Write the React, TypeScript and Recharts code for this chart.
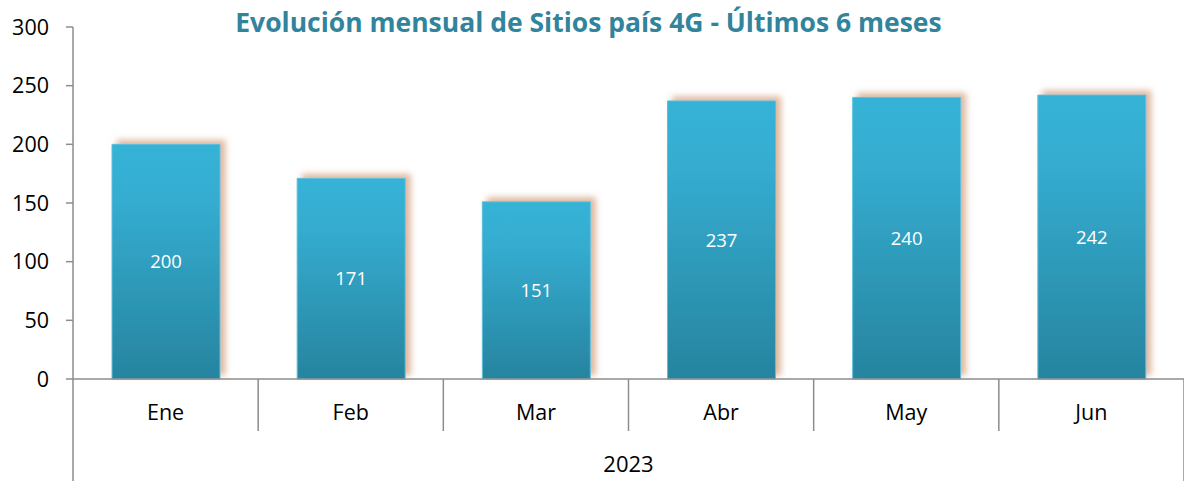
import React from 'react';
import { BarChart, Bar, XAxis, YAxis, LabelList } from 'recharts';

document.body.style.margin = '0';

const months = ['Ene', 'Feb', 'Mar', 'Abr', 'May', 'Jun'];
const sites = [200, 171, 151, 237, 240, 242];
const years = ['2023', '2023', '2023', '2023', '2023', '2023'];
const yTicks = [0, 50, 100, 150, 200, 250, 300];

const data = months.map((m, i) => ({ month: m, sites: sites[i], year: years[i] }));

const W = 1184;
const H = 481;
const Y_AXIS_W = 73;
const BAND = (W - Y_AXIS_W) / months.length;
const FONT = '"Open Sans", sans-serif';
const AXIS_GREY = '#8c8c8c';

const MonthTick = (props: any) => {
    const { x, y, payload } = props;
    const half = payload && payload.offset ? payload.offset : BAND / 2;
    return (
        <g>
            <line x1={x + half} y1={y} x2={x + half} y2={y + 52} stroke={AXIS_GREY} strokeWidth={1.5} />
            <text x={x} y={y + 35} textAnchor="middle" dominantBaseline="middle" fontSize={21.5} fontFamily={FONT} fill="#000">
                {payload.value}
            </text>
        </g>
    );
};

const YearTick = (props: any) => {
    const { x, y, payload } = props;
    const half = payload && payload.offset ? payload.offset : (W - Y_AXIS_W) / 2;
    return (
        <g>
            <line x1={x - half} y1={y - 52} x2={x - half} y2={y + 50} stroke={AXIS_GREY} strokeWidth={1.5} />
            <line x1={x + half} y1={y} x2={x + half} y2={y + 50} stroke={AXIS_GREY} strokeWidth={1.5} />
            <text x={x} y={y + 35} textAnchor="middle" dominantBaseline="middle" fontSize={22} fontFamily={FONT} fill="#000">
                {payload.value}
            </text>
        </g>
    );
};

const App = () => {
    return (
        <div style={{ position: 'relative', width: W, height: H, background: '#fff' }}>
            <div
                style={{
                    position: 'absolute',
                    left: 0,
                    top: 4,
                    width: 1177,
                    textAlign: 'center',
                    fontFamily: FONT,
                    fontWeight: 700,
                    fontSize: 26.5,
                    color: '#31849b',
                    lineHeight: '36px',
                    zIndex: 1,
                }}
            >
                Evolución mensual de Sitios país 4G - Últimos 6 meses
            </div>
            <BarChart width={W} height={H} data={data} margin={{ top: 27, right: 0, left: 0, bottom: 0 }}>
                <defs>
                    <linearGradient id="barFill" x1="0" y1="0" x2="0" y2="1">
                        <stop offset="0%" stopColor="#36b3d7" />
                        <stop offset="25%" stopColor="#34acd0" />
                        <stop offset="100%" stopColor="#27849f" />
                    </linearGradient>
                    <filter id="barGlow" x="-20%" y="-20%" width="140%" height="140%">
                        <feDropShadow dx={5} dy={-4} stdDeviation={3} floodColor="#cf9a76" floodOpacity={0.7} />
                    </filter>
                </defs>
                <YAxis
                    domain={[0, 300]}
                    ticks={yTicks}
                    width={Y_AXIS_W}
                    axisLine={{ stroke: AXIS_GREY, strokeWidth: 1.5 }}
                    tickLine={{ stroke: AXIS_GREY, strokeWidth: 1.5 }}
                    tickSize={7}
                    tickMargin={17}
                    tick={{ fontSize: 21.5, fontFamily: FONT, fill: '#000' }}
                />
                <XAxis
                    dataKey="month"
                    height={52}
                    axisLine={{ stroke: AXIS_GREY, strokeWidth: 1.5 }}
                    tickLine={false}
                    tickSize={0}
                    tickMargin={0}
                    tick={<MonthTick />}
                    interval={0}
                />
                <XAxis
                    xAxisId="year"
                    dataKey="year"
                    allowDuplicatedCategory={false}
                    height={50}
                    axisLine={false}
                    tickLine={false}
                    tickSize={0}
                    tickMargin={0}
                    tick={<YearTick />}
                />
                <Bar
                    dataKey="sites"
                    barSize={108}
                    fill="url(#barFill)"
                    stroke="#5cc0dd"
                    strokeWidth={1}
                    filter="url(#barGlow)"
                    isAnimationActive={false}
                >
                    <LabelList dataKey="sites" position="center" fill="#fff" fontSize={18.5} fontFamily={FONT} />
                </Bar>
            </BarChart>
        </div>
    );
};

export default App;
